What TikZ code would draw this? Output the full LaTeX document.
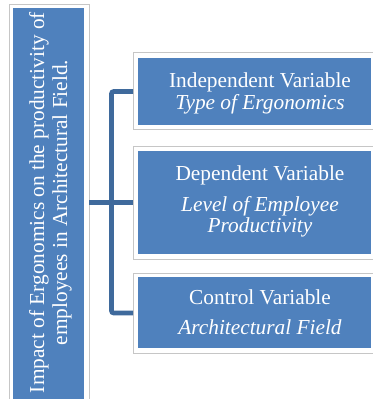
\documentclass[tikz,border=0pt]{standalone}
\usepackage{fontspec}
\setmainfont{Liberation Serif}
\definecolor{boxblue}{HTML}{4F81BD}
\definecolor{linkblue}{HTML}{3F6A9C}
\definecolor{framegray}{HTML}{C6C6C6}
\begin{document}
\begin{tikzpicture}[x=0.75pt,y=-0.75pt,
  frame/.style={draw=framegray, fill=white, line width=0.75pt, inner sep=0pt, outer sep=0pt},
  bluebox/.style={fill=boxblue, draw=none, inner sep=0pt, outer sep=0pt},
  label/.style={text=white, align=center, anchor=base, inner sep=0pt,
    font=\fontsize{16}{16.1}\selectfont},
  link/.style={draw=linkblue, line width=3.4pt, rounded corners=1.5pt}]
\useasboundingbox (0,0) rectangle (373,399);
\clip (0,0) rectangle (373,399);
% left box
\node[frame, minimum width=60pt, minimum height=303.75pt] (lf) at (49,207.5) {};
\node[bluebox, minimum width=53.25pt, minimum height=301.5pt] (lb) at (48.5,209) {};
\node[label, rotate=90, font=\fontsize{16}{17.2}\selectfont] (lt) at (67,202.5)
  {Impact of Ergonomics on the productivity of\\employees in Architectural Field.};
% right boxes
\node[frame, minimum width=180.75pt, minimum height=57.75pt] (f1) at (253.5,91.5) {};
\node[bluebox, minimum width=174.375pt, minimum height=50.25pt] (b1) at (254.25,91.5) {};
\node[frame, minimum width=180.75pt, minimum height=84.75pt] (f2) at (253.5,202.5) {};
\node[bluebox, minimum width=174.375pt, minimum height=77.25pt] (b2) at (254.25,202.5) {};
\node[frame, minimum width=180.75pt, minimum height=60pt] (f3) at (253.5,313) {};
\node[bluebox, minimum width=174.375pt, minimum height=53.25pt] (b3) at (254.25,312.5) {};
\node[label] (t1) at (260,109.3) {Independent Variable\\\textit{Type of Ergonomics}};
\node[label] (t2) at (260,232.7) {Dependent Variable\\[6.9pt]\textit{Level of Employee}\\\textit{Productivity}};
\node[label] (t3) at (260,334) {Control Variable\\[6.4pt]\textit{Architectural Field}};
% connectors
\coordinate (sp) at (111.5,202.5);
\draw[link] (lf.east |- f2.west) -- (f2.west);
\draw[link] (f1.west) -| (sp) |- (f3.west);
\end{tikzpicture}
\end{document}
